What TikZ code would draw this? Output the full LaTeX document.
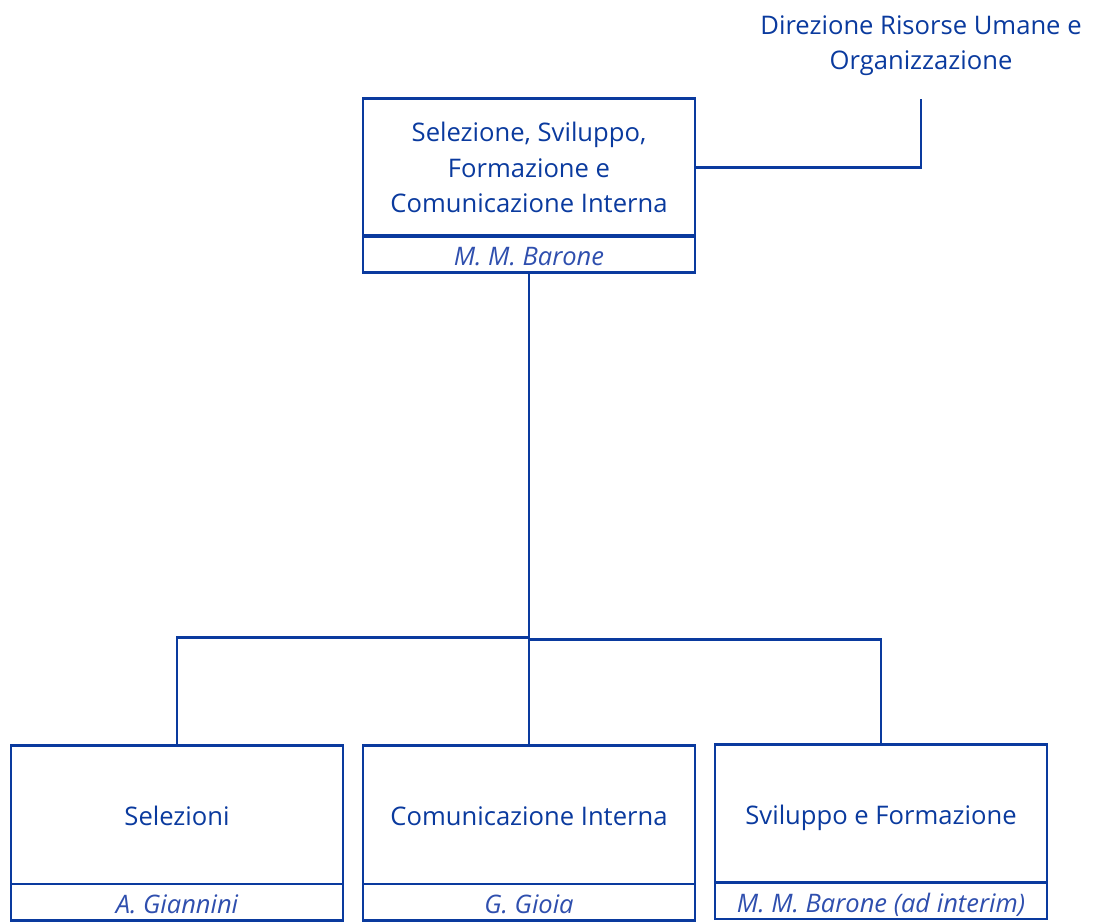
\documentclass[tikz,border=0pt]{standalone}
\usepackage{fontspec}
\setmainfont{Open Sans}
\definecolor{dblue}{HTML}{0A3A9E}
\definecolor{nblue}{HTML}{2F4FAE}
\begin{document}
\begin{tikzpicture}[x=1pt,y=-1pt,
  unit/.style={draw=dblue, line width=2.8pt, minimum width=332pt, inner sep=0pt,
    align=center, text=dblue, font=\fontsize{25.6}{35.5}\selectfont},
  single/.style={text height=21pt, text depth=0pt},
  person/.style={draw=dblue, line width=2.8pt, minimum width=332pt, inner sep=0pt,
    align=center, text=nblue, font=\fontsize{25.5}{28}\selectfont\itshape,
    text height=23pt, text depth=0pt},
  link/.style={draw=dblue, line width=2.5pt}]
\useasboundingbox (0,0) rectangle (1095,922);
% top unit
\node[unit, minimum height=137.4pt] (top) at (529,167.5) {Selezione, Sviluppo,\\Formazione e\\Comunicazione Interna};
\node[person, minimum height=36.6pt] (topn) at (529,254) {M. M. Barone};
% direction label
\node[text=dblue, font=\fontsize{25.6}{35.5}\selectfont, align=center, inner sep=0pt] (dir) at (921,45.5) {Direzione Risorse Umane e\\Organizzazione};
\coordinate (dr) at (921,99);
% bottom units
\node[unit, single, minimum height=138.3pt] (m1) at (177,814.8) {Selezioni};
\node[person, minimum height=36.7pt] (m1n) at (177,902.3) {A. Giannini};
\node[unit, single, minimum height=138.3pt] (m2) at (529,814.8) {Comunicazione Interna};
\node[person, minimum height=36.7pt] (m2n) at (529,902.3) {G. Gioia};
\node[unit, single, minimum height=138pt] (m3) at (881,813.7) {Sviluppo e Formazione};
\node[person, minimum height=36.3pt] (m3n) at (881,900.9) {M. M. Barone (ad interim)};
% connectors
\draw[link] (top.east) -| (dr);
\draw[link] (topn.south) -- (m2.north);
\coordinate (j1) at (529,637.3);
\coordinate (j2) at (529,639.3);
\draw[link] (j1) -| (m1.north);
\draw[link] (j2) -| (m3.north);
\end{tikzpicture}
\end{document}
